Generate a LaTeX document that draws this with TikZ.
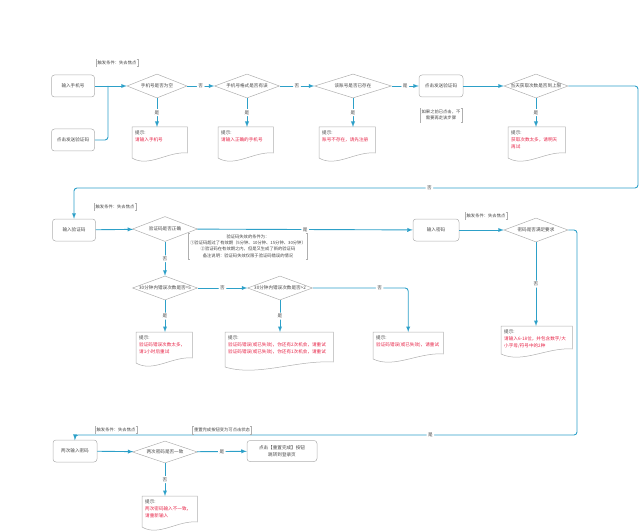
\documentclass[tikz,border=0pt]{standalone}
\usepackage{fontspec}
\setmainfont{Noto Sans CJK SC}
\usetikzlibrary{shapes.geometric,calc}

\definecolor{flowblue}{RGB}{45,160,200}
\definecolor{boxgray}{RGB}{175,175,175}
\definecolor{tipred}{RGB}{230,35,70}
\definecolor{textgray}{RGB}{70,70,70}

\newcommand{\nodefont}{\fontsize{4.6}{6.5}\selectfont}
\newcommand{\tipfont}{\fontsize{4.6}{7}\selectfont}
\newcommand{\notefont}{\fontsize{4.3}{6.3}\selectfont}

% outline of a tip document, #2 = height of the left side
\newcommand{\tipshape}[2]{%
  \draw[boxgray,line width=0.5pt] ($(#1.north west)+(0,#2)$) -- (#1.north west) -- (#1.north east)
    -- ($(#1.north east)+(0,#2-5)$)
    .. controls ($(#1.north east)!0.35!(#1.north west)+(0,#2-7)$) and ($(#1.north west)!0.3!(#1.north east)+(0,#2+10)$)
    .. ($(#1.north west)+(0,#2)$);}

% brackets round an annotation
\newcommand{\notebracket}[1]{%
  \draw[boxgray,line width=0.4pt] ($(#1.north west)+(1.5,0)$) -- (#1.north west) -- (#1.south west) -- ($(#1.south west)+(1.5,0)$);
  \draw[boxgray,line width=0.4pt] ($(#1.north east)+(-1.5,0)$) -- (#1.north east) -- (#1.south east) -- ($(#1.south east)+(-1.5,0)$);}

\begin{document}
\begin{tikzpicture}[x=1pt,y=-1pt,>=latex,
	every node/.style={font=\nodefont,text=textgray},
	flow/.style={draw=flowblue,line width=0.9pt,rounded corners=3pt},
	process/.style={rectangle,rounded corners=3pt,draw=boxgray,line width=0.5pt,
		minimum width=43pt,minimum height=22pt,inner sep=1pt,align=center},
	decision/.style={diamond,draw=boxgray,line width=0.5pt,inner sep=0pt,
		minimum width=65pt,minimum height=24pt},
	tip/.style={anchor=north west,text width=#1,inner sep=3pt,align=left,font=\tipfont},
	note/.style={align=center,inner sep=1.5pt,font=\notefont},
	yesno/.style={fill=white,inner sep=1.5pt}]

	\useasboundingbox (0,0) rectangle (640,532);

	% row 1: phone number
	\node[process] (phone) at (73,86) {输入手机号};
	\node[process] (sendbtn) at (73,140) {点击发送验证码};
	\node[note] (trig1) at (117,63) {触发条件：失去焦点};
	\coordinate (j1) at (108,86);

	\node[decision,minimum width=60pt,label={center:{手机号是否为空}}] (isempty) at (157,86) {};
	\node[decision,label={center:{手机号格式是否有误}}] (isvalid) at (247,86) {};
	\node[decision,minimum width=77pt,label={center:{该账号是否已存在}}] (isexist) at (353,86) {};
	\node[process,minimum width=44pt] (sendcode) at (441,86) {点击发送验证码};
	\node[note] (codenote) at (441,115) {如果之前已点击，不\\需要再走该步骤};
	\node[decision,minimum width=64pt,label={center:{当天获取次数是否到上限}}] (islimit) at (536,86) {};

	\node[tip=49pt] (tipempty) at (132,127) {提示:\\{\color{tipred}请输入手机号}};
	\node[tip=49pt] (tipvalid) at (218,127) {提示:\\{\color{tipred}请输入正确的手机号}};
	\node[tip=50pt] (tipexist) at (319,127) {提示:\\{\color{tipred}账号不存在，请先注册}};
	\node[tip=51pt] (tiplimit) at (508,127) {提示:\\{\color{tipred}获取次数太多，请明天\\再试}};
	\tipshape{tipempty}{31}
	\tipshape{tipvalid}{31}
	\tipshape{tipexist}{31}
	\tipshape{tiplimit}{31}

	\draw[flow,->] (phone) -- (isempty);
	\draw[flow] (sendbtn) -| (j1);
	\draw[flow,->] (isempty) -- node[yesno]{否} (isvalid);
	\draw[flow,->] (isvalid) -- node[yesno]{否} (isexist);
	\draw[flow,->] (isexist) -- node[yesno]{是} (sendcode);
	\draw[flow,->] (sendcode) -- (islimit);
	\draw[flow,->] (isempty) -- node[yesno]{是} (isempty |- tipempty.north);
	\draw[flow,->] (isvalid) -- node[yesno]{是} (isvalid |- tipvalid.north);
	\draw[flow,->] (isexist) -- node[yesno]{是} (isexist |- tipexist.north);
	\draw[flow,->] (islimit) -- node[yesno]{是} (islimit |- tiplimit.north);
	\notebracket{trig1}
	\notebracket{codenote}

	% row 2: verification code and password
	\coordinate (turn1) at (638,188);
	\node[process] (inputcode) at (74,230) {输入验证码};
	\node[note] (trig2) at (115,207) {触发条件：失去焦点};
	\node[decision,minimum width=65pt,minimum height=25pt,label={center:{验证码是否正确}}] (iscorrect) at (165,229) {};
	\node[note] (failnote) at (248,246) {验证码失效的条件为：\\①验证码超过了有效期（5分钟、10分钟、15分钟、30分钟）\\②验证码在有效期之内，但是又生成了新的验证码\\备注说明：验证码失效仅限于验证码错误的情况};
	\node[decision,label={center:{30分钟内错误次数是否=5}}] (errfive) at (165,288) {};
	\node[decision,label={center:{30分钟内错误次数是否>2}}] (errtwo) at (280,288) {};
	\node[process,minimum width=46pt] (inputpwd) at (436,230) {输入密码};
	\node[note] (trig3) at (486,216) {触发条件：失去焦点};
	\node[decision,minimum width=64pt,label={center:{密码是否满足要求}}] (pwdok) at (536,230) {};

	\node[tip=50pt] (tipfive) at (136,332) {提示:\\{\color{tipred}验证码错误次数太多，\\请1小时后重试}};
	\node[tip=102pt] (tiptwo) at (225,332) {提示:\\{\color{tipred}验证码错误(或已失效)，你还有2次机会，请重试\\验证码错误(或已失效)，你还有1次机会，请重试}};
	\node[tip=64pt] (tipretry) at (373,332) {提示:\\{\color{tipred}验证码错误(或已失效)，请重试}};
	\node[tip=65pt] (tippwd) at (501,326) {提示:\\{\color{tipred}请输入6-18位，并包含数字/大\\小字母/符号中的2种}};
	\tipshape{tipfive}{31}
	\tipshape{tiptwo}{35}
	\tipshape{tipretry}{27}
	\tipshape{tippwd}{28}

	\draw[flow,->] (islimit) -| (turn1) -| node[yesno,pos=0.185]{否} (inputcode);
	\draw[flow,->] (inputcode) -- (iscorrect);
	\draw[flow,->] (iscorrect) -- node[yesno]{是} (inputpwd);
	\draw[flow,->] (inputpwd) -- (pwdok);
	\draw[flow,->] (iscorrect) -- node[yesno]{否} (errfive);
	\draw[flow,->] (errfive) -- node[yesno]{否} (errtwo);
	\draw[flow,->] (errfive) -- node[yesno]{是} (errfive |- tipfive.north);
	\draw[flow,->] (errtwo) -- node[yesno]{是} (errtwo |- tiptwo.north);
	\draw[flow,->] (errtwo) -| node[yesno,pos=0.35]{否} (tipretry.north);
	\draw[flow,->] (pwdok) -- node[yesno]{否} (pwdok |- tippwd.north);
	\notebracket{trig2}
	\notebracket{failnote}
	\notebracket{trig3}

	% row 3: repeat password
	\coordinate (turn2) at (577,435);
	\node[process,minimum width=44pt] (repeatpwd) at (75,451) {两次输入密码};
	\node[note] (trig4) at (116,430) {触发条件：失去焦点};
	\node[note] (donenote) at (222,430) {重置完成按钮变为可点击状态};
	\node[decision,minimum height=22pt,label={center:{两次密码是否一致}}] (issame) at (165,452) {};
	\node[process,minimum width=70pt,minimum height=21pt] (donebtn) at (282,451) {点击【重置完成】按钮\\跳转到登录页};
	\node[tip=49pt] (tipsame) at (142,496) {提示:\\{\color{tipred}两次密码输入不一致，\\请重新输入}};
	\tipshape{tipsame}{31}

	\draw[flow,->] (pwdok) -| (turn2) -| node[yesno,pos=0.146]{是} (repeatpwd);
	\draw[flow,->] (repeatpwd) -- (issame);
	\draw[flow,->] (issame) -- node[yesno]{是} (donebtn);
	\draw[flow,->] (issame) -- node[yesno]{否} (issame |- tipsame.north);
	\notebracket{trig4}
	\notebracket{donenote}
\end{tikzpicture}
\end{document}
